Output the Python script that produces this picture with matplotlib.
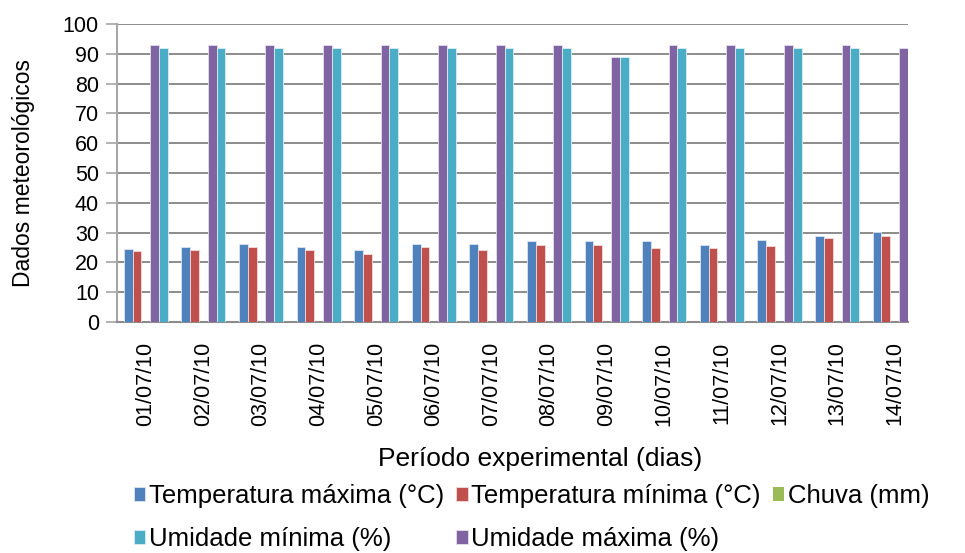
import matplotlib.pyplot as plt
import numpy as np

plt.rcParams['font.family'] = ['Liberation Sans', 'DejaVu Sans']

dias = ['01/07/10', '02/07/10', '03/07/10', '04/07/10', '05/07/10', '06/07/10', '07/07/10',
        '08/07/10', '09/07/10', '10/07/10', '11/07/10', '12/07/10', '13/07/10', '14/07/10']
temp_max = [24.5, 25.2, 26.3, 25.2, 24.2, 26.1, 26.1, 27.3, 27.3, 27.1, 25.9, 27.4, 28.8, 30.2]
temp_min = [23.9, 24.2, 25.2, 24.2, 22.7, 25.1, 24.3, 25.8, 25.8, 24.9, 24.9, 25.5, 28.1, 28.8]
chuva = [0, 0, 0, 0, 0, 0, 0, 0, 0, 0, 0, 0, 0, 0]
umid_max = [93, 93, 93, 93, 93, 93, 93, 93, 89, 93, 93, 93, 93, 92]
umid_min = [92, 92, 92, 92, 92, 92, 92, 92, 89, 92, 92, 92, 92, 92]

fig = plt.figure(figsize=(9.65, 5.53), dpi=100)
ax = fig.add_axes([0.1212, 0.4177, 0.8197, 0.5389])

x = np.arange(len(dias))
w = 0.153
b1 = ax.bar(x - 2*w, temp_max, w, color='#4F81BD', edgecolor='#DCE6F2', linewidth=0.6, zorder=3)
b2 = ax.bar(x - w, temp_min, w, color='#C0504D', edgecolor='#F2DCDB', linewidth=0.6, zorder=3)
b3 = ax.bar(x, chuva, w, color='#9BBB59', zorder=3)
b4 = ax.bar(x + w, umid_max, w, color='#8064A2', edgecolor='#E4DFEC', linewidth=0.6, zorder=3)
b5 = ax.bar(x + 2*w, umid_min, w, color='#4BACC6', edgecolor='#DAEEF3', linewidth=0.6, zorder=3)

ax.set_xlim(-0.5, 13.23)
ax.set_ylim(0, 100)
ax.set_yticks(range(0, 101, 10))
ax.grid(axis='y', color='#8C8C8C', linewidth=1.4, zorder=0)
ax.set_xticks(x)
ax.set_xticklabels(dias, rotation=90, fontsize=15.5)
ax.tick_params(axis='x', length=0, pad=14)
ax.tick_params(axis='y', labelsize=15.5, length=8, color='#A6A6A6', width=1.2, pad=5)
for s in ['top', 'right']:
    ax.spines[s].set_visible(False)
ax.spines['left'].set_color('#A6A6A6')
ax.spines['left'].set_linewidth(1.5)
ax.spines['bottom'].set_color('#8C8C8C')
ax.spines['bottom'].set_linewidth(1.5)

ax.set_ylabel('Dados meteorológicos', fontsize=16.5, labelpad=20)
ax.set_xlabel('Período experimental (dias)', fontsize=19)
ax.xaxis.set_label_coords(0.535, -0.42)

handles = [b1, b5, b2, b4, b3]
labels = ['Temperatura máxima (°C)', 'Umidade mínima (%)', 'Temperatura mínima (°C)',
          'Umidade máxima (%)', 'Chuva (mm)']
fig.legend(handles, labels, ncol=3, loc='upper left', bbox_to_anchor=(0.128, 0.143),
           frameon=False, fontsize=18.5, handlelength=0.45, handleheight=0.45,
           handletextpad=0.15, columnspacing=0.45, labelspacing=0.75, borderaxespad=0)

fig.savefig('out.png', dpi=100)
